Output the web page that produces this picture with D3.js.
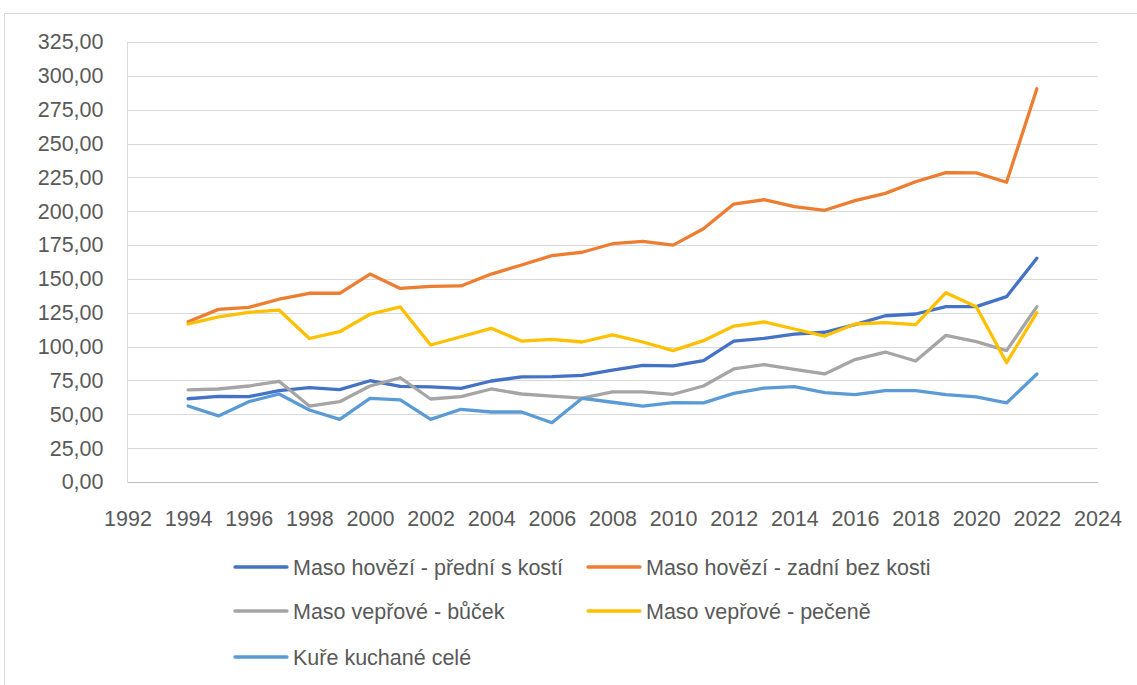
<!DOCTYPE html>
<html><head><meta charset="utf-8">
<script src="https://cdn.jsdelivr.net/npm/d3@7"></script>
<style>
html,body{margin:0;padding:0;background:#fff;}
svg text{font-family:"Liberation Sans",Arial,sans-serif;fill:#595959;}
</style></head>
<body><svg id="c" width="1137" height="685"></svg>
<script>
const years = d3.range(1994, 2023);
const seriesNames = ["Maso hovězí - přední s kostí","Maso hovězí - zadní bez kosti","Maso vepřové - bůček","Maso vepřové - pečeně","Kuře kuchané celé"];
const hovPredni = [61.5,63.3,63,67.5,69.7,68.2,74.8,70.7,70.2,69.2,74.6,77.6,77.8,78.8,82.7,86.2,85.7,89.6,104.1,106.1,109.3,110.6,116.2,122.8,124.1,129.5,129.5,136.9,165.2];
const hovZadni = [118.4,127.5,129,135,139.4,139.4,153.6,143,144.5,144.8,153.6,160.3,167.2,169.7,176,177.8,175,187.1,205.3,208.5,203.4,200.7,207.8,213.2,221.8,228.5,228.3,221.4,290.5];
const vepBucek = [68,68.7,70.9,74.4,56.1,59.3,70.9,77,61.3,63,68.7,65,63.5,62,66.5,66.5,64.8,70.9,83.5,86.7,83.2,79.8,90.4,96,89.4,108.3,103.7,97,129.5];
const vepPecene = [116.7,122,125.3,127,106,111,123.9,129.3,101.2,107.3,113.5,104.1,105.4,103.4,108.6,103.4,97,104.4,115.2,118.2,113,107.8,116.7,117.7,116.2,139.8,129.5,88.1,125.1];
const kure = [56.1,48.8,59.3,65,53.2,46.3,61.8,60.6,46.3,53.7,51.7,51.7,43.8,61.8,58.9,56.1,58.6,58.4,65.5,69.4,70.4,66,64.5,67.5,67.5,64.5,62.8,58.4,79.8];
const colors = ["#4472C4","#ED7D31","#A5A5A5","#FFC000","#5B9BD5"];
const xTicks = d3.range(1992, 2025, 2);
const yTicks = d3.range(0, 326, 25);

const FS = 21.5;
const svg = d3.select("#c");
// chart frame
svg.append("rect").attr("x",4.5).attr("y",13.5).attr("width",1140).attr("height",680)
  .attr("fill","none").attr("stroke","#D9D9D9").attr("stroke-width",1);

const L=127.5, R=1097.5, T=42, B=482;
const x = d3.scaleLinear().domain([1992,2024]).range([L,R]);
const y = d3.scaleLinear().domain([0,325]).range([B,T]);
const fmt = v => d3.format(".2f")(v).replace(".",",");

// gridlines
svg.append("g").selectAll("line").data(yTicks.filter(d=>d>0)).join("line")
  .attr("x1",L).attr("x2",R).attr("y1",d=>Math.round(y(d))+0.5).attr("y2",d=>Math.round(y(d))+0.5)
  .attr("stroke","#D9D9D9").attr("stroke-width",1);
// axes lines
svg.append("line").attr("x1",L).attr("x2",L).attr("y1",T).attr("y2",B).attr("stroke","#D9D9D9");
svg.append("line").attr("x1",L).attr("x2",R).attr("y1",B+0.5).attr("y2",B+0.5).attr("stroke","#BFBFBF");

// y labels
const yAxis = d3.axisLeft(y).tickValues(yTicks).tickFormat(fmt).tickSize(0).tickPadding(24);
const gy = svg.append("g").attr("transform",`translate(${L},0)`).call(yAxis);
gy.select(".domain").remove();
gy.selectAll("text").attr("font-size",FS).style("fill","#595959").attr("font-family","Liberation Sans, Arial, sans-serif");

// x labels
const xAxis = d3.axisBottom(x).tickValues(xTicks).tickFormat(d3.format("d")).tickSize(0).tickPadding(29);
const gx = svg.append("g").attr("transform",`translate(0,${B})`).call(xAxis);
gx.select(".domain").remove();
gx.selectAll("text").attr("font-size",FS).style("fill","#595959").attr("font-family","Liberation Sans, Arial, sans-serif");

// lines
const data = [hovPredni, hovZadni, vepBucek, vepPecene, kure];
const line = d3.line().x((d,i)=>x(years[i])).y(d=>y(d));
svg.append("g").selectAll("path").data(data).join("path")
  .attr("d",line).attr("fill","none").attr("stroke",(d,i)=>colors[i])
  .attr("stroke-width",3.3).attr("stroke-linejoin","round").attr("stroke-linecap","round");

// legend
const legPos = [[235,567],[588,567],[235,611],[588,611],[235,657]];
const lg = svg.append("g").selectAll("g").data(seriesNames).join("g")
  .attr("transform",(d,i)=>`translate(${legPos[i][0]},${legPos[i][1]})`);
lg.append("line").attr("x1",0).attr("x2",52).attr("y1",0).attr("y2",0)
  .attr("stroke",(d,i)=>colors[i]).attr("stroke-width",3.3).attr("stroke-linecap","round");
lg.append("text").attr("x",58).attr("y",0).attr("dy","0.35em").attr("font-size",FS).text(d=>d);
</script></body></html>
